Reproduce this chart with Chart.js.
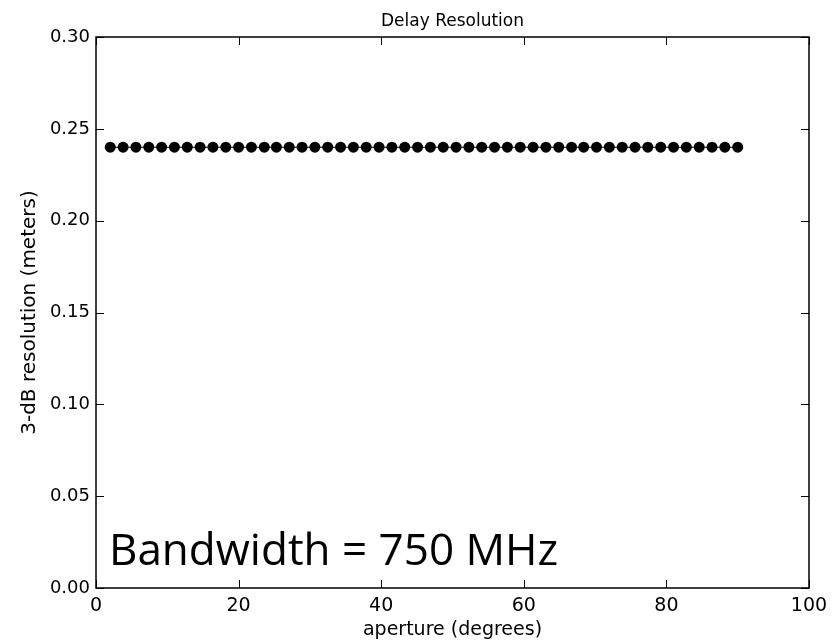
<!DOCTYPE html>
<html>
<head>
<meta charset="utf-8">
<script src="https://cdn.jsdelivr.net/npm/chart.js@4.4.1/dist/chart.umd.min.js"></script>
<style>
  html, body { margin: 0; padding: 0; background: #fff; }
  #chart { display: block; }
</style>
</head>
<body>
<canvas id="chart" width="840" height="644"></canvas>
<script>
// aperture angles (degrees)
const aperture = [
  2.0, 3.8, 5.6, 7.4, 9.2, 11.0, 12.8, 14.6, 16.4, 18.2,
  20.0, 21.8, 23.6, 25.3, 27.1, 28.9, 30.7, 32.5, 34.3, 36.1,
  37.9, 39.7, 41.5, 43.3, 45.1, 46.9, 48.7, 50.5, 52.3, 54.1,
  55.9, 57.7, 59.5, 61.3, 63.1, 64.9, 66.7, 68.4, 70.2, 72.0,
  73.8, 75.6, 77.4, 79.2, 81.0, 82.8, 84.6, 86.4, 88.2, 90.0
];
// 3-dB delay resolution (meters)
const resolution = [
  0.24, 0.24, 0.24, 0.24, 0.24, 0.24, 0.24, 0.24, 0.24, 0.24,
  0.24, 0.24, 0.24, 0.24, 0.24, 0.24, 0.24, 0.24, 0.24, 0.24,
  0.24, 0.24, 0.24, 0.24, 0.24, 0.24, 0.24, 0.24, 0.24, 0.24,
  0.24, 0.24, 0.24, 0.24, 0.24, 0.24, 0.24, 0.24, 0.24, 0.24,
  0.24, 0.24, 0.24, 0.24, 0.24, 0.24, 0.24, 0.24, 0.24, 0.24
];
const xTicks = [0, 20, 40, 60, 80, 100];
const yTicks = [0.00, 0.05, 0.10, 0.15, 0.20, 0.25, 0.30];
const titleText = "Delay Resolution";
const noteText = "Bandwidth = 750 MHz";

const FONT = "'DejaVu Sans', sans-serif";

// box around the plot, inward ticks on all four sides, title and note
const framePlugin = {
  id: "frame",
  afterDatasetsDraw(chart) {
    const { ctx, chartArea: a, scales } = chart;
    ctx.save();
    ctx.strokeStyle = "#000";
    ctx.lineWidth = 1;
    const tl = 8;
    ctx.beginPath();
    xTicks.forEach((v) => {
      const x = Math.round(scales.x.getPixelForValue(v)) + 0.5;
      ctx.moveTo(x, a.bottom); ctx.lineTo(x, a.bottom - tl);
      ctx.moveTo(x, a.top); ctx.lineTo(x, a.top + tl);
    });
    yTicks.forEach((v) => {
      const y = Math.round(scales.y.getPixelForValue(v)) + 0.5;
      ctx.moveTo(a.left, y); ctx.lineTo(a.left + tl, y);
      ctx.moveTo(a.right, y); ctx.lineTo(a.right - tl, y);
    });
    ctx.stroke();
    ctx.lineWidth = 1.5;
    ctx.strokeRect(a.left, a.top, a.right - a.left, a.bottom - a.top);

    ctx.fillStyle = "#000";
    ctx.font = "17px " + FONT;
    ctx.textAlign = "center";
    ctx.textBaseline = "alphabetic";
    ctx.fillText(titleText, (a.left + a.right) / 2, a.top - 11);

    ctx.font = "44px 'Open Sans', sans-serif";
    ctx.textAlign = "left";
    ctx.fillText(noteText, a.left + 13, a.bottom - 23);
    ctx.restore();
  },
};

new Chart(document.getElementById("chart"), {
  type: "line",
  data: {
    datasets: [
      {
        data: aperture.map((x, i) => ({ x, y: resolution[i] })),
        borderColor: "#000",
        borderWidth: 1,
        backgroundColor: "#000",
        pointBackgroundColor: "#000",
        pointBorderColor: "#000",
        pointRadius: 5.5,
        pointBorderWidth: 0,
        tension: 0,
      },
    ],
  },
  options: {
    responsive: false,
    animation: false,
    layout: { padding: { top: 37, right: 31, left: 0, bottom: 0 } },
    plugins: {
      legend: { display: false },
      tooltip: { enabled: false },
      title: { display: false },
    },
    scales: {
      x: {
        type: "linear",
        min: 0,
        max: 100,
        afterBuildTicks: (s) => { s.ticks = xTicks.map((v) => ({ value: v })); },
        afterFit: (s) => { s.height = 56; },
        grid: { display: false, drawTicks: false },
        border: { display: false },
        ticks: { color: "#000", padding: 7, font: { family: FONT, size: 19 }, maxRotation: 0 },
        title: { display: true, text: "aperture (degrees)", color: "#000", padding: { top: 2, bottom: 3 }, font: { family: FONT, size: 19 } },
      },
      y: {
        type: "linear",
        min: 0,
        max: 0.3,
        afterBuildTicks: (s) => { s.ticks = yTicks.map((v) => ({ value: v })); },
        afterFit: (s) => { s.width = 96; },
        grid: { display: false, drawTicks: false },
        border: { display: false },
        ticks: { color: "#000", padding: 6, font: { family: FONT, size: 18 }, callback: (v) => Number(v).toFixed(2) },
        title: { display: true, text: "3-dB resolution (meters)", color: "#000", padding: { top: 18, bottom: 0 }, font: { family: FONT, size: 20 } },
      },
    },
  },
  plugins: [framePlugin],
});
</script>
</body>
</html>
